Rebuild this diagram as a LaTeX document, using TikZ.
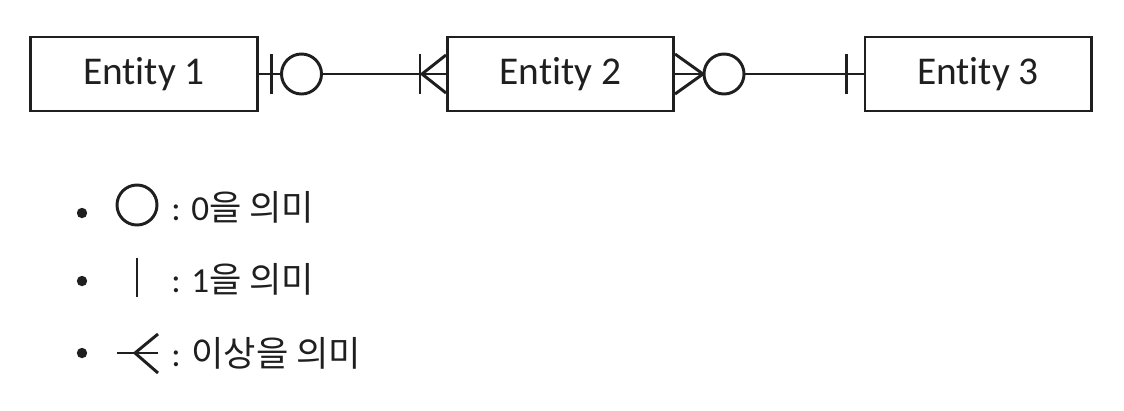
\documentclass[tikz,border=0pt]{standalone}
\usepackage{fontspec}
\setmainfont{Carlito}[Ligatures=NoCommon]
\newfontfamily\kr{Noto Sans CJK KR}
\begin{document}
\begin{tikzpicture}[x=0.025cm, y=-0.025cm,
	line width=2.1pt, draw=black!88, text=black!88,
	entity/.style={draw, rectangle, minimum width=5.65cm, minimum height=1.85cm, inner sep=0pt, font=\fontsize{28}{34}\selectfont},
	zero/.style={draw, circle, fill=white, minimum size=1cm, inner sep=0pt},
	bullet/.style={circle, fill=black!88, inner sep=0pt, minimum size=0.26cm},
	legend/.style={anchor=west, inner sep=0pt, font=\fontsize{25}{30}\selectfont}]
	\useasboundingbox (0,0) rectangle (1124,410);
	% entities
	\node[entity] (e1) at (144,74) {Entity 1};
	\node[entity] (e2) at (560.5,74) {Entity 2};
	\node[entity] (e3) at (978,74) {Entity 3};
	% relationships
	\draw (e1) -- (e2);
	\draw (e2) -- (e3);
	% entity 1 side: one or zero
	\draw ([shift={(13,-20)}]e1.east) -- ([shift={(13,20)}]e1.east);
	\node[zero] (z1) at ([shift={(43,0)}]e1.east) {};
	% entity 2 left side: one or more
	\draw ([shift={(-26,-20)}]e2.west) -- ([shift={(-26,20)}]e2.west);
	\draw ([shift={(0,-19)}]e2.west) -- ([shift={(-24,0)}]e2.west) -- ([shift={(0,19)}]e2.west);
	% entity 2 right side: zero or more
	\draw ([shift={(0,-20)}]e2.east) -- ([shift={(28,0)}]e2.east) -- ([shift={(0,20)}]e2.east);
	\node[zero] (z2) at ([shift={(49,0)}]e2.east) {};
	% entity 3 side: one
	\draw ([shift={(-17,-20)}]e3.west) -- ([shift={(-17,20)}]e3.west);
	% legend
	\node[bullet] (b1) at (82,213) {};
	\node[bullet] (b2) at (82,281) {};
	\node[bullet] (b3) at (82,353) {};
	\node[zero] (s1) at (137,205) {};
	\draw (137,258) -- (137,297);
	\draw (117,353) -- (158,353);
	\draw (158,334) -- (135,353) -- (158,373);
	\node[legend] (t1) at (170,207) {: 0{\kr 을 의미}};
	\node[legend] (t2) at (170,279) {: 1{\kr 을 의미}};
	\node[legend] (t3) at (170,353) {: {\kr 이상을 의미}};
\end{tikzpicture}
\end{document}
